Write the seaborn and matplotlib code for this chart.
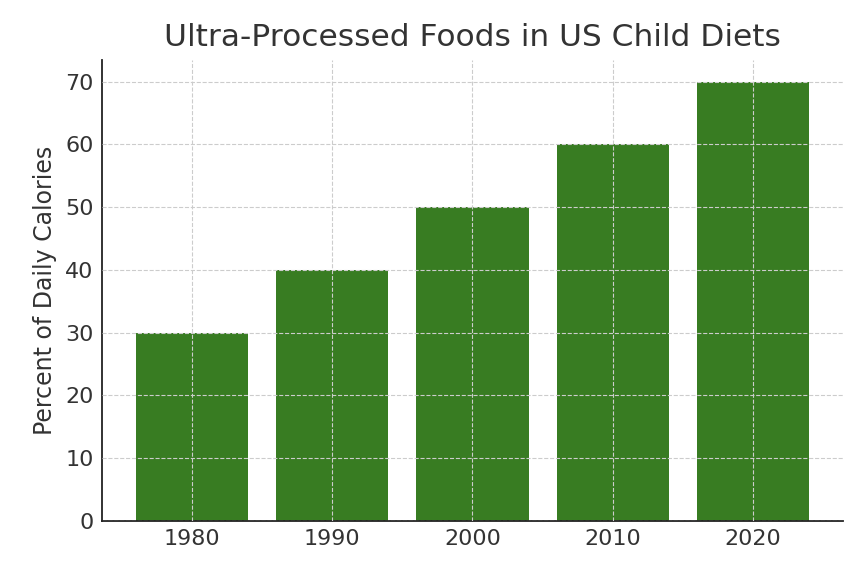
import matplotlib
matplotlib.use("Agg")
import matplotlib.pyplot as plt
import seaborn as sns
import pandas as pd

years = ["1980", "1990", "2000", "2010", "2020"]
percent = [30, 40, 50, 60, 70]

df = pd.DataFrame({"Year": years, "Percent": percent})

sns.set_style("white")
plt.rcParams["font.family"] = ["DejaVu Sans"]
text_color = "#333333"

fig = plt.figure(figsize=(8.68, 5.86), dpi=100)
ax = fig.add_axes([0.1175, 0.111, 0.8535, 0.787])

sns.barplot(data=df, x="Year", y="Percent", color="#387c22", saturation=1,
            width=0.8, linewidth=0, ax=ax, zorder=2)

ax.set_xlim(-0.64, len(years) - 1 + 0.64)
ax.set_ylim(0, 73.5)
ax.set_yticks([0, 10, 20, 30, 40, 50, 60, 70])

ax.set_axisbelow(False)
ax.grid(True, linestyle="--", color="#cccccc", linewidth=0.8, zorder=3)

for s in ["top", "right"]:
    ax.spines[s].set_visible(False)
for s in ["left", "bottom"]:
    ax.spines[s].set_color("#222222")
    ax.spines[s].set_linewidth(1.3)

ax.tick_params(axis="both", direction="in", length=5, width=1.2,
               colors="#222222", labelsize=16, labelcolor=text_color, pad=6)
ax.set_xlabel("")
ax.set_ylabel("Percent of Daily Calories", fontsize=17, color=text_color,
              labelpad=6)
ax.set_title("Ultra-Processed Foods in US Child Diets", fontsize=22.5,
             color=text_color, pad=10)

fig.savefig("out.png", dpi=100)
